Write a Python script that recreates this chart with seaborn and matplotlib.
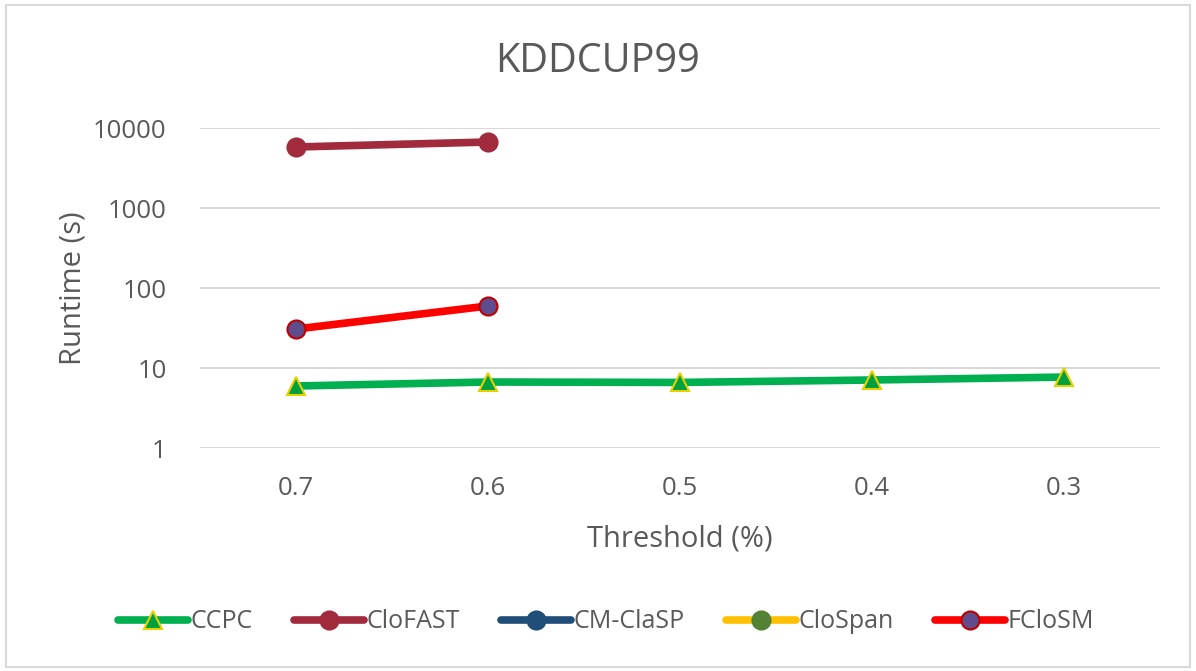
import numpy as np
import pandas as pd
import matplotlib
matplotlib.use("Agg")
import matplotlib.pyplot as plt
from matplotlib.lines import Line2D
from matplotlib.patches import Rectangle
import seaborn as sns

# ---- data ----
thresholds = ["0.7", "0.6", "0.5", "0.4", "0.3"]
ccpc = [5.96, 6.68, 6.6, 7.08, 7.7]
clofast = [5790, 6680, None, None, None]
cmclasp = [None, None, None, None, None]
clospan = [None, None, None, None, None]
fclosm = [30.7, 59.6, None, None, None]

series_names = ["CCPC", "CloFAST", "CM-ClaSP", "CloSpan", "FCloSM"]
series_values = [ccpc, clofast, cmclasp, clospan, fclosm]

# styles: (line color, marker, marker face, marker edge)
styles = {
    "CCPC": ("#00B050", "^", "#00A040", "#E8D000"),
    "CloFAST": ("#A12A3C", "o", "#A12A3C", "#A12A3C"),
    "CM-ClaSP": ("#1F4E79", "o", "#1F4E79", "#1F4E79"),
    "CloSpan": ("#FFC000", "o", "#548235", "#548235"),
    "FCloSM": ("#FF0000", "o", "#5E4C8C", "#C00000"),
}

sns.set_theme(style="white")
plt.rcParams["font.family"] = ["Open Sans", "DejaVu Sans"]
text_color = "#595959"

fig = plt.figure(figsize=(11.96, 6.71), dpi=100)
ax = fig.add_axes([200 / 1196, 1 - 448 / 671, 960 / 1196, 320 / 671])

x_pos = np.arange(len(thresholds))

handles = []
for name, vals in zip(series_names, series_values):
    lc, mk, mf, me = styles[name]
    df = pd.DataFrame({"x": x_pos, "y": [np.nan if v is None else v for v in vals]}).dropna()
    ms = 13
    if len(df):
        sns.lineplot(data=df, x="x", y="y", ax=ax, color=lc, linewidth=5.5,
                     marker=mk, markersize=ms,
                     markerfacecolor=mf, markeredgecolor=me, markeredgewidth=1.5,
                     zorder=3, legend=False)
    handles.append(Line2D([0], [0], color=lc, linewidth=5.5, marker=mk,
                          markersize=ms,
                          markerfacecolor=mf, markeredgecolor=me, markeredgewidth=1.5,
                          label=name))

ax.set_yscale("log")
ax.set_ylim(1, 10000)
ax.set_xlim(-0.5, len(thresholds) - 0.5)
ax.set_yticks([1, 10, 100, 1000, 10000])
ax.set_yticklabels(["1", "10", "100", "1000", "10000"])
ax.yaxis.set_minor_locator(matplotlib.ticker.NullLocator())
ax.set_xticks(x_pos)
ax.set_xticklabels(thresholds)
ax.grid(axis="y", color="#D9D9D9", linewidth=1.5)
ax.grid(axis="x", visible=False)
for s in ax.spines.values():
    s.set_visible(False)
ax.tick_params(axis="both", length=0, labelsize=18.5, labelcolor=text_color)
ax.tick_params(axis="y", pad=24)
ax.tick_params(axis="x", pad=20)

ax.set_xlabel("Threshold (%)", fontsize=21, color=text_color, labelpad=17)
ax.set_ylabel("Runtime (s)", fontsize=21, color=text_color, labelpad=4)
fig.text(0.5, 1 - 62 / 671, "KDDCUP99", ha="center", va="center", fontsize=28.5, color=text_color)

leg = fig.legend(handles=handles, loc="center", bbox_to_anchor=(0.507, 1 - 622 / 671),
                 ncol=5, frameon=False, fontsize=18, handlelength=2.8,
                 handletextpad=0.1, columnspacing=1.65, labelcolor=text_color)

fig.patches.append(Rectangle((6 / 1196, 4 / 671), 1184 / 1196, 662 / 671,
                             transform=fig.transFigure, fill=False,
                             edgecolor="#D9D9D9", linewidth=1.5))

fig.savefig("out.png", dpi=100, facecolor="white")
